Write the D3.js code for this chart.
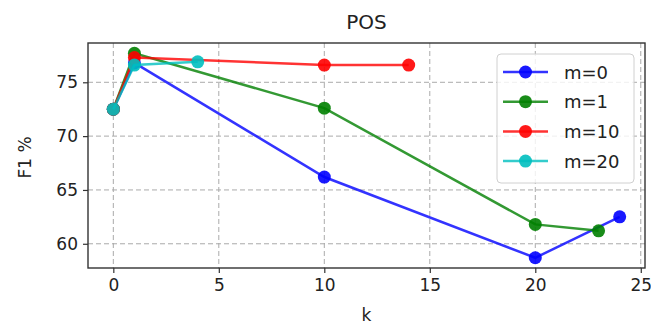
<!DOCTYPE html>
<html><head><meta charset="utf-8">
<script src="https://cdn.jsdelivr.net/npm/d3@7"></script>
<style>body{margin:0;background:#fff}svg{display:block}text{font-family:"DejaVu Sans",sans-serif;fill:#222}</style>
</head><body><svg id="c" width="651" height="326"></svg>
<script>
const title = "POS";
const xLabel = "k";
const yLabel = "F1 %";
const seriesNames = ["m=0", "m=1", "m=10", "m=20"];
const seriesColors = ["#0000ff", "#008000", "#ff0000", "#00bfbf"];
const kM0 = [0, 1, 10, 20, 24];
const f1M0 = [72.5, 76.8, 66.2, 58.7, 62.5];
const kM1 = [0, 1, 10, 20, 23];
const f1M1 = [72.5, 77.7, 72.6, 61.8, 61.2];
const kM10 = [0, 1, 10, 14];
const f1M10 = [72.5, 77.3, 76.6, 76.6];
const kM20 = [0, 1, 4];
const f1M20 = [72.5, 76.6, 76.9];
const xTicks = [0, 5, 10, 15, 20, 25];
const yTicks = [60, 65, 70, 75];

const series = [
  {name: seriesNames[0], color: seriesColors[0], pts: kM0.map((k,i)=>[k,f1M0[i]])},
  {name: seriesNames[1], color: seriesColors[1], pts: kM1.map((k,i)=>[k,f1M1[i]])},
  {name: seriesNames[2], color: seriesColors[2], pts: kM10.map((k,i)=>[k,f1M10[i]])},
  {name: seriesNames[3], color: seriesColors[3], pts: kM20.map((k,i)=>[k,f1M20[i]])}
];

const L = 88, R = 645, T = 43, B = 268;
const svg = d3.select("#c");
const x = d3.scaleLinear().domain([-1.2, 25.2]).range([L, R]);
const y = d3.scaleLinear().domain([57.75, 78.65]).range([B, T]);

// grid
const g = svg.append("g");
g.selectAll(".gx").data(xTicks).join("line")
  .attr("x1", d=>x(d)).attr("x2", d=>x(d)).attr("y1", T).attr("y2", B)
  .attr("stroke", "#aaa").attr("stroke-width", 1).attr("stroke-dasharray", "5,3");
g.selectAll(".gy").data(yTicks).join("line")
  .attr("x1", L).attr("x2", R).attr("y1", d=>y(d)).attr("y2", d=>y(d))
  .attr("stroke", "#aaa").attr("stroke-width", 1).attr("stroke-dasharray", "5,3");

// axes
const xa = svg.append("g").attr("transform", `translate(0,${B})`)
  .call(d3.axisBottom(x).tickValues(xTicks).tickSize(5).tickPadding(6).tickFormat(d3.format("d")));
const ya = svg.append("g").attr("transform", `translate(${L},0)`)
  .call(d3.axisLeft(y).tickValues(yTicks).tickSize(5).tickPadding(5).tickFormat(d3.format("d")));
[xa, ya].forEach(a => {
  a.select(".domain").remove();
  a.selectAll("line").attr("stroke", "#333").attr("stroke-width", 1.2);
  a.selectAll("text").attr("font-size", 17).attr("fill", "#333").style("font-family", "DejaVu Sans");
});

// lines
const line = d3.line().x(d=>x(d[0])).y(d=>y(d[1]));
series.forEach(s => {
  svg.append("path").datum(s.pts).attr("d", line)
    .attr("fill", "none").attr("stroke", s.color).attr("stroke-width", 2.5).attr("stroke-opacity", 0.8);
  svg.append("g").selectAll("circle").data(s.pts).join("circle")
    .attr("cx", d=>x(d[0])).attr("cy", d=>y(d[1])).attr("r", 6.5)
    .attr("fill", s.color).attr("fill-opacity", 0.9);
});

// frame
svg.append("rect").attr("x", L).attr("y", T).attr("width", R-L).attr("height", B-T)
  .attr("fill", "none").attr("stroke", "#333").attr("stroke-width", 1.4);

// labels
svg.append("text").attr("x", (L+R)/2).attr("y", 29).attr("text-anchor", "middle")
  .attr("font-size", 20).text(title);
svg.append("text").attr("x", (L+R)/2).attr("y", 321).attr("text-anchor", "middle")
  .attr("font-size", 17).text(xLabel);
svg.append("text").attr("transform", `translate(31,${(T+B)/2+2}) rotate(-90)`).attr("text-anchor", "middle")
  .attr("font-size", 17).text(yLabel);

// legend
const lg = svg.append("g");
lg.append("rect").attr("x", 497).attr("y", 54).attr("width", 137).attr("height", 129).attr("rx", 4)
  .attr("fill", "#fff").attr("fill-opacity", 0.8).attr("stroke", "#d0d0d0").attr("stroke-width", 1);
series.forEach((s, i) => {
  const yy = 72 + i * 29.7;
  lg.append("line").attr("x1", 503).attr("x2", 548).attr("y1", yy).attr("y2", yy)
    .attr("stroke", s.color).attr("stroke-width", 2.5).attr("stroke-opacity", 0.8);
  lg.append("circle").attr("cx", 525.5).attr("cy", yy).attr("r", 6.5).attr("fill", s.color).attr("fill-opacity", 0.9);
  lg.append("text").attr("x", 564).attr("y", yy + 6.5).attr("font-size", 18).text(s.name);
});
</script></body></html>
